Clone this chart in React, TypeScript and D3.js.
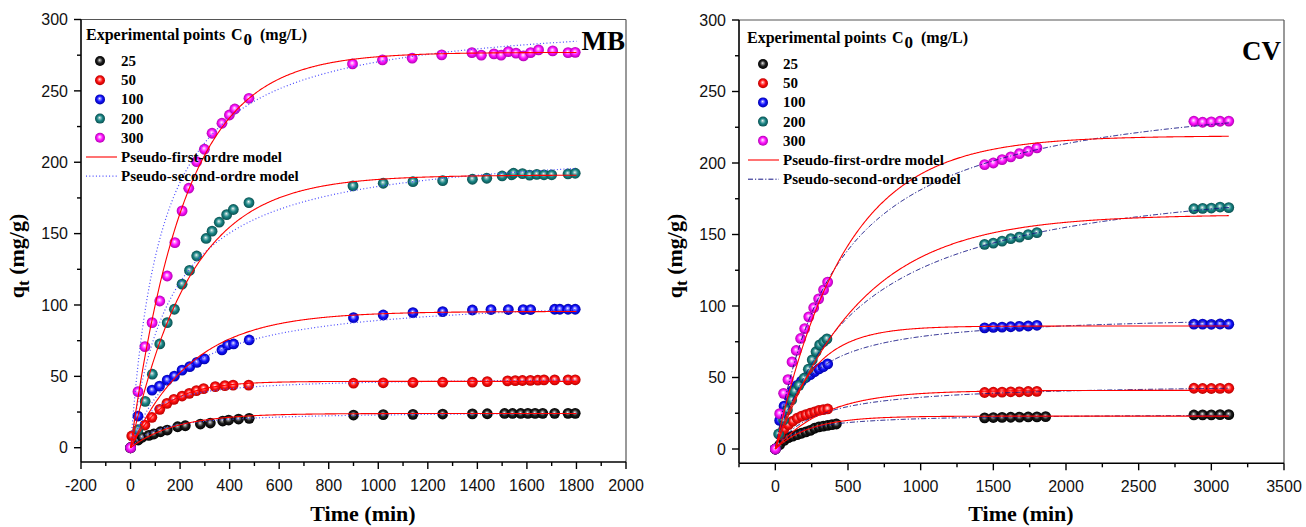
import React from 'react';
import * as d3 from 'd3';

// ---------- shared ----------
const concentrations = ['25', '50', '100', '200', '300'];
const ballStops = [
  ['#ffffff', '#9a9a9a', '#1e1e1e', '#000000'],
  ['#ffffff', '#ff9a9a', '#ff1010', '#b80000'],
  ['#ffffff', '#9a9aff', '#1414ff', '#0000a8'],
  ['#ffffff', '#9cc8c8', '#1a8585', '#0a4f4f'],
  ['#ffffff', '#ffa8ff', '#ff14ff', '#b000b0'],
];

// ---------- MB panel data (time in min, qt in mg/g) ----------
const mbT25 = [0, 31, 47, 74, 94, 121, 148, 190, 221, 282, 322, 372, 396, 436, 479, 900, 1020, 1140, 1260, 1380, 1440, 1510, 1542, 1575, 1604, 1633, 1664, 1712, 1766, 1795];
const mbQ25 = [0, 5.4, 7.3, 8.7, 9.6, 11.2, 12.4, 14.7, 15.4, 16.6, 17.3, 18.7, 19.4, 20.1, 20.6, 22.9, 23.2, 23.4, 23.6, 23.7, 23.8, 24.0, 24.0, 24.0, 24.1, 24.1, 24.1, 24.1, 24.1, 24.1];
const mbT50 = [0, 5, 58, 86, 118, 147, 175, 208, 237, 266, 295, 342, 381, 414, 477, 900, 1020, 1140, 1260, 1380, 1440, 1522, 1553, 1582, 1614, 1644, 1669, 1712, 1766, 1795];
const mbQ50 = [0, 8.2, 15.9, 21.3, 26.9, 31.1, 33.9, 36.2, 38.1, 40.0, 41.4, 42.8, 43.5, 43.9, 43.9, 45.2, 45.5, 45.7, 45.9, 46.0, 46.3, 46.8, 47.0, 47.1, 47.2, 47.3, 47.5, 47.5, 47.5, 47.6];
const mbT100 = [0, 30, 87, 117, 148, 177, 208, 239, 268, 298, 369, 392, 416, 479, 900, 1020, 1140, 1260, 1380, 1455, 1525, 1585, 1615, 1712, 1733, 1766, 1795];
const mbQ100 = [0, 22.2, 40.4, 43.2, 47.4, 50.2, 54.4, 56.8, 59.8, 62.2, 68.5, 72.0, 72.7, 75.5, 91.1, 93.0, 94.6, 95.3, 96.5, 96.8, 96.8, 96.8, 96.8, 97.0, 97.0, 97.0, 97.0];
const mbT200 = [0, 30, 59, 88, 118, 148, 177, 208, 238, 267, 305, 329, 358, 388, 415, 478, 898, 1020, 1140, 1260, 1380, 1438, 1500, 1539, 1546, 1582, 1611, 1640, 1669, 1700, 1766, 1795];
const mbQ200 = [0, 12.6, 32.5, 51.5, 72.7, 87.6, 97.0, 114.6, 124.2, 134.3, 146.6, 151.7, 158.0, 163.3, 166.9, 171.7, 183.4, 185.3, 186.4, 187.1, 188.1, 188.8, 190.4, 191.2, 192.3, 192.0, 191.0, 191.5, 191.2, 191.2, 191.8, 192.3];
const mbT300 = [0, 30, 58, 87, 118, 148, 179, 208, 235, 267, 298, 329, 369, 399, 421, 478, 896, 1017, 1137, 1256, 1378, 1416, 1467, 1496, 1525, 1556, 1586, 1615, 1647, 1704, 1766, 1795];
const mbQ300 = [0, 39.3, 70.8, 87.6, 102.8, 120.3, 143.7, 165.9, 181.8, 200.4, 209.1, 220.3, 227.3, 233.1, 237.3, 244.8, 268.9, 271.7, 272.9, 275.2, 276.8, 275.0, 275.9, 275.0, 277.5, 276.4, 274.5, 276.8, 278.7, 278.0, 276.8, 277.0];
// model parameters
const mbPfoQe = [24, 46.5, 95.5, 191, 277];
const mbPfoK1 = [0.0055, 0.0074, 0.0040, 0.00414, 0.0045];
const mbPsoQe = [25.5, 49.5, 108, 214, 305];
const mbPsoK2 = [3.495e-4, 2.551e-4, 4.397e-5, 2.764e-5, 2.56e-5];

// ---------- CV panel data ----------
const cvT25 = [0, 30, 60, 90, 120, 150, 180, 210, 240, 270, 300, 330, 360, 390, 420, 1440, 1500, 1560, 1620, 1680, 1740, 1800, 1860, 2880, 2940, 3000, 3060, 3120];
const cvQ25 = [0, 3, 6, 8, 9, 10, 11, 12, 13, 14.5, 15.5, 16, 16.5, 17, 17.5, 21.8, 22.0, 22.1, 22.2, 22.3, 22.4, 22.5, 22.6, 23.8, 23.9, 23.9, 24.0, 24.0];
const cvT50 = [0, 30, 60, 90, 120, 150, 180, 210, 240, 270, 300, 330, 360, 1440, 1500, 1560, 1620, 1680, 1740, 1800, 2880, 2940, 3000, 3060, 3120];
const cvQ50 = [0, 10, 14, 17, 19.5, 21.5, 23, 24, 25, 26, 27, 27.5, 28, 39.5, 39.7, 39.8, 40.0, 40.0, 40.2, 40.3, 42.5, 42.3, 42.3, 42.4, 42.5];
const cvT100 = [0, 30, 60, 90, 120, 150, 180, 210, 240, 270, 300, 330, 360, 1440, 1500, 1560, 1620, 1680, 1740, 1800, 2880, 2940, 3000, 3060, 3120];
const cvQ100 = [0, 20, 30, 37, 41, 44.5, 47.5, 50, 52, 54, 56, 57.5, 59.5, 84.7, 85.0, 85.2, 85.5, 85.8, 86.0, 86.5, 87.3, 87.3, 87.2, 87.4, 87.3];
const cvT200 = [0, 23, 57, 83, 113, 133, 163, 198, 227, 254, 280, 305, 332, 355, 1440, 1500, 1560, 1620, 1680, 1740, 1800, 2880, 2940, 3000, 3060, 3120];
const cvQ200 = [0, 10.5, 20.3, 27.3, 34.3, 40.5, 44.5, 49.5, 55.8, 62.3, 68, 72.8, 75, 77, 143.1, 144.0, 145.4, 147.1, 148.2, 149.9, 151.3, 168.0, 168.3, 168.5, 169.2, 168.8];
const cvT300 = [0, 30, 57, 87, 115, 144, 174, 202, 230, 264, 298, 332, 360, 1440, 1500, 1560, 1620, 1680, 1740, 1800, 2880, 2940, 3000, 3060, 3120];
const cvQ300 = [0, 24.7, 38.9, 48.5, 60.9, 68.9, 77.3, 84.2, 92.4, 98.8, 105, 111.3, 116.7, 198.9, 200.0, 202.4, 204.3, 206.6, 208.2, 210.6, 229.2, 228.5, 228.8, 229.2, 229.3];
const cvPfoQe = [23, 41, 86, 164, 219];
const cvPfoK1 = [0.0041, 0.0029, 0.0040, 0.0017, 0.0021];
const cvPsoQe = [24.8, 46.3, 95.2, 201, 259.7];
const cvPsoK2 = [2.346e-4, 7.685e-5, 4.97e-5, 8.396e-6, 8.894e-6];

// ---------- axis tick values ----------
const yMajorTicks = [0, 50, 100, 150, 200, 250, 300];
const yMinorTicks = [25, 75, 125, 175, 225, 275];
const mbXMajorTicks = [-200, 0, 200, 400, 600, 800, 1000, 1200, 1400, 1600, 1800, 2000];
const mbXMinorTicks = [-100, 100, 300, 500, 700, 900, 1100, 1300, 1500, 1700, 1900];
const cvXMajorTicks = [0, 500, 1000, 1500, 2000, 2500, 3000, 3500];
const cvXMinorTicks = [-250, 250, 750, 1250, 1750, 2250, 2750, 3250];

const panels = [
  {
    key: 'mb', label: 'MB', labelX: 625, labelY: 50,
    left: 81, right: 626, top: 19.5, bottom: 462,
    xDomain: [-200, 2000], xMajor: mbXMajorTicks, xMinor: mbXMinorTicks, tMax: 1800,
    times: [mbT25, mbT50, mbT100, mbT200, mbT300],
    qs: [mbQ25, mbQ50, mbQ100, mbQ200, mbQ300],
    pfoQe: mbPfoQe, pfoK: mbPfoK1, psoQe: mbPsoQe, psoK: mbPsoK2,
    psoColor: '#4a4aff', psoDash: '1 2.3', psoWidth: 1.2,
    legend: { titleX: 86, titleY: 40, markerX: 100, textX: 121, row0: 61, lineX0: 86, lineX1: 117 },
    yTitleX: 24, xTitleX: 363,
  },
  {
    key: 'cv', label: 'CV', labelX: 1281, labelY: 60,
    left: 739, right: 1284, top: 20, bottom: 463.3,
    xDomain: [-250, 3500], xMajor: cvXMajorTicks, xMinor: cvXMinorTicks, tMax: 3120,
    times: [cvT25, cvT50, cvT100, cvT200, cvT300],
    qs: [cvQ25, cvQ50, cvQ100, cvQ200, cvQ300],
    pfoQe: cvPfoQe, pfoK: cvPfoK1, psoQe: cvPsoQe, psoK: cvPsoK2,
    psoColor: '#151585', psoDash: '5 2 1.2 2', psoWidth: 1,
    legend: { titleX: 747, titleY: 43, markerX: 763, textX: 783, row0: 64, lineX0: 748, lineX1: 779 },
    yTitleX: 682, xTitleX: 1021,
  },
];

const SERIF = '"Liberation Serif", "Times New Roman", serif';
const SANS = '"Liberation Sans", Arial, sans-serif';

function Panel({ p }: { p: any }) {
  const x = d3.scaleLinear().domain(p.xDomain).range([p.left, p.right]);
  const y = d3.scaleLinear().domain([-10, 300]).range([p.bottom, p.top]);
  const tGrid = d3.range(0, p.tMax + 0.001, p.tMax / 600);
  const line = d3.line<[number, number]>().x(d => x(d[0])).y(d => y(d[1]));
  const pfo = (i: number) => line(tGrid.map(t => [t, p.pfoQe[i] * (1 - Math.exp(-p.pfoK[i] * t))] as [number, number]));
  const pso = (i: number) => line(tGrid.map(t => {
    const k = p.psoK[i], qe = p.psoQe[i];
    return [t, (k * qe * qe * t) / (1 + k * qe * t)] as [number, number];
  }));
  const lg = p.legend;
  const rowY = (i: number) => lg.row0 + i * 19.2;
  return (
    <g>
      {/* frame */}
      <line x1={p.left} x2={p.right} y1={p.top} y2={p.top} stroke="#555" strokeWidth={1.2} />
      <line x1={p.right} x2={p.right} y1={p.top} y2={p.bottom} stroke="#555" strokeWidth={1.2} />
      {/* data markers */}
      {p.times.map((ts: number[], i: number) => (
        <g key={'s' + i}>
          {ts.map((t, j) => (
            <circle key={j} cx={x(t)} cy={y(p.qs[i][j])} r={5.4} fill={`url(#ball${i})`} />
          ))}
        </g>
      ))}
      {/* model curves */}
      {p.times.map((_: any, i: number) => (
        <path key={'pso' + i} d={pso(i) || ''} fill="none" stroke={p.psoColor} strokeWidth={p.psoWidth} strokeDasharray={p.psoDash} />
      ))}
      {p.times.map((_: any, i: number) => (
        <path key={'pfo' + i} d={pfo(i) || ''} fill="none" stroke="#ff0000" strokeWidth={1.1} />
      ))}
      {/* axes */}
      <line x1={p.left} x2={p.left} y1={p.top} y2={p.bottom} stroke="#000" strokeWidth={1.6} />
      <line x1={p.left} x2={p.right} y1={p.bottom} y2={p.bottom} stroke="#000" strokeWidth={1.6} />
      {yMajorTicks.map(v => (
        <g key={'ym' + v}>
          <line x1={p.left - 7} x2={p.left} y1={y(v)} y2={y(v)} stroke="#000" strokeWidth={1.4} />
          <text x={p.left - 13} y={y(v)} dy="0.36em" textAnchor="end" fontFamily={SANS} fontSize={16} fill="#111">{String(v)}</text>
        </g>
      ))}
      {yMinorTicks.map(v => (
        <line key={'yn' + v} x1={p.left - 4} x2={p.left} y1={y(v)} y2={y(v)} stroke="#000" strokeWidth={1.4} />
      ))}
      {p.xMajor.map((v: number) => (
        <g key={'xm' + v}>
          <line x1={x(v)} x2={x(v)} y1={p.bottom} y2={p.bottom + 7} stroke="#000" strokeWidth={1.4} />
          <text x={x(v)} y={p.bottom + 29} textAnchor="middle" fontFamily={SANS} fontSize={16} fill="#111">{String(v)}</text>
        </g>
      ))}
      {p.xMinor.map((v: number) => (
        <line key={'xn' + v} x1={x(v)} x2={x(v)} y1={p.bottom} y2={p.bottom + 4} stroke="#000" strokeWidth={1.4} />
      ))}
      {/* axis titles */}
      <text x={p.xTitleX} y={521} textAnchor="middle" fontFamily={SERIF} fontWeight="bold" fontSize={22}>Time (min)</text>
      <text transform={`translate(${p.yTitleX},256) rotate(-90)`} textAnchor="middle" fontFamily={SERIF} fontWeight="bold" fontSize={22}>
        <tspan>q</tspan>
        <tspan dy={5} fontSize={17}>t</tspan>
        <tspan dy={-5}> (mg/g)</tspan>
      </text>
      {/* panel label */}
      <text x={p.labelX} y={p.labelY} textAnchor="end" fontFamily={SERIF} fontWeight="bold" fontSize={27}>{p.label}</text>
      {/* legend */}
      <g fontFamily={SERIF} fontWeight="bold">
        <text x={lg.titleX} y={lg.titleY} fontSize={16}>Experimental points</text>
        <text x={lg.titleX + 145} y={lg.titleY} fontSize={16}>C</text>
        <text x={lg.titleX + 157.5} y={lg.titleY + 5} fontSize={17}>0</text>
        <text x={lg.titleX + 174} y={lg.titleY} fontSize={16}>(mg/L)</text>
        {concentrations.map((c, i) => (
          <g key={'lg' + i}>
            <circle cx={lg.markerX} cy={rowY(i)} r={5} fill={`url(#ball${i})`} />
            <text x={lg.textX} y={rowY(i) + 5} fontSize={15}>{c}</text>
          </g>
        ))}
        <line x1={lg.lineX0} x2={lg.lineX1} y1={rowY(5)} y2={rowY(5)} stroke="#ff0000" strokeWidth={1.1} />
        <text x={lg.textX} y={rowY(5) + 5} fontSize={15}>Pseudo-first-ordre model</text>
        <line x1={lg.lineX0} x2={lg.lineX1} y1={rowY(6)} y2={rowY(6)} stroke={p.psoColor} strokeWidth={p.psoWidth} strokeDasharray={p.psoDash} />
        <text x={lg.textX} y={rowY(6) + 5} fontSize={15}>Pseudo-second-ordre model</text>
      </g>
    </g>
  );
}

export default function App() {
  return (
    <svg width={1306} height={527} style={{ position: 'absolute', left: 0, top: 0, background: '#fff' }}>
      <defs>
        {ballStops.map((s, i) => (
          <radialGradient key={i} id={`ball${i}`} cx="50%" cy="50%" r="50%" fx="46%" fy="40%">
            <stop offset="0%" stopColor={s[0]} />
            <stop offset="18%" stopColor={s[1]} />
            <stop offset="55%" stopColor={s[2]} />
            <stop offset="100%" stopColor={s[3]} />
          </radialGradient>
        ))}
      </defs>
      <rect x={0} y={0} width={1306} height={527} fill="#fff" />
      {panels.map(p => <Panel key={p.key} p={p} />)}
    </svg>
  );
}
